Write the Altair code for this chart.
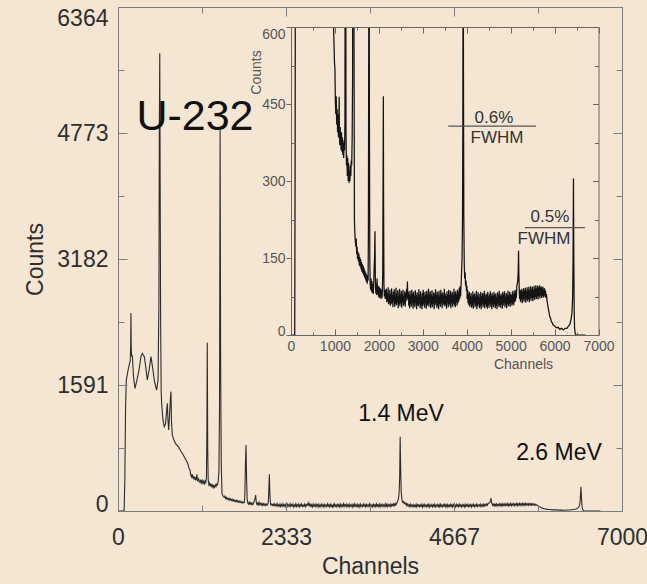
import altair as alt
import pandas as pd

FONT = "Liberation Sans"
BG = "#F5E6D4"

# ---------------- spectrum (channel, counts) ----------------
seg_low = [(0, 0), (85, 0), (95, 400), (105, 1300), (115, 1650), (128, 1720), (145, 1800),
           (160, 1860), (170, 1900), (176, 2100), (180, 2500), (184, 2050), (190, 1950),
           (199, 1970), (215, 1700), (236, 1549), (262, 1650), (292, 1780), (318, 1950),
           (338, 1991), (366, 1949), (388, 1800), (407, 1654), (432, 1780), (458, 1949),
           (482, 1800), (510, 1620), (537, 1528), (556, 1650), (568, 2600), (574, 4800),
           (580, 5780), (586, 4000), (592, 2400), (600, 1500), (608, 1330), (625, 1150),
           (643, 1065), (660, 1100), (674, 1250), (685, 1360), (694, 1150), (704, 1023),
           (718, 1250), (730, 1450), (736, 1507), (742, 1150), (754, 960), (775, 900),
           (800, 850), (838, 812), (870, 760), (907, 707), (940, 650), (968, 602), (990, 530)]

seg_1000 = [(1000, 520), (1010, 455), (1020, 430), (1030, 465), (1040, 410), (1050, 440),
            (1060, 395), (1070, 430), (1080, 385), (1090, 420), (1096, 464), (1102, 400),
            (1110, 370), (1120, 405), (1130, 380), (1140, 360), (1150, 395), (1160, 357),
            (1170, 385), (1180, 350), (1190, 375), (1200, 345), (1210, 380), (1220, 360),
            (1228, 420), (1234, 900), (1240, 2125), (1246, 800), (1252, 400), (1262, 330),
            (1272, 350), (1282, 310), (1292, 345), (1302, 300), (1312, 335), (1322, 296),
            (1332, 320), (1342, 300), (1352, 330), (1362, 310), (1372, 340), (1382, 330),
            (1392, 380), (1402, 500), (1410, 1300), (1418, 4810), (1426, 1800), (1434, 600),
            (1444, 224), (1455, 195)]

seg_1465 = [(1465, 182), (1475, 172), (1485, 188), (1495, 158), (1505, 172), (1515, 148),
            (1525, 162), (1535, 143), (1545, 158), (1555, 136), (1565, 152), (1575, 133),
            (1585, 148), (1595, 128), (1605, 142), (1615, 123), (1625, 138), (1635, 120),
            (1645, 135), (1655, 116), (1665, 130), (1675, 112), (1685, 125), (1695, 108),
            (1705, 121), (1715, 104), (1725, 117), (1735, 100), (1745, 112), (1755, 106),
            (1762, 200), (1770, 600), (1778, 833), (1786, 400), (1794, 150), (1802, 100),
            (1812, 88), (1822, 110), (1832, 85), (1842, 105), (1852, 82), (1862, 100),
            (1872, 80), (1882, 95), (1892, 130), (1902, 150), (1912, 202), (1920, 110),
            (1930, 81), (1940, 100), (1950, 78), (1960, 110), (1970, 80), (1980, 96),
            (1990, 75), (2000, 95), (2010, 72), (2020, 92), (2030, 74), (2040, 90),
            (2050, 70), (2060, 88), (2070, 72), (2080, 86), (2088, 120), (2096, 300),
            (2102, 465), (2108, 250), (2116, 100), (2125, 75), (2135, 88), (2145, 70),
            (2155, 85)]

seg_2160 = [(2160, 72), (2170, 90), (2180, 64), (2190, 82), (2200, 66), (2210, 93), (2220, 60),
            (2230, 79), (2240, 62), (2250, 88), (2260, 57), (2270, 80), (2280, 60), (2290, 91),
            (2300, 63), (2310, 78), (2320, 54), (2330, 84), (2340, 66), (2350, 89), (2360, 55),
            (2370, 77), (2380, 61), (2390, 92), (2400, 58), (2410, 81), (2420, 63), (2430, 87),
            (2440, 52), (2450, 76), (2460, 60), (2470, 90), (2480, 56), (2490, 79), (2500, 62),
            (2510, 86), (2520, 53), (2530, 80), (2540, 64), (2550, 88), (2560, 57), (2570, 75),
            (2580, 61), (2590, 85), (2600, 55), (2610, 82), (2620, 66), (2630, 90), (2640, 72),
            (2650, 104), (2660, 68), (2670, 84), (2680, 57), (2690, 79), (2700, 52), (2710, 86),
            (2720, 60), (2730, 77), (2740, 55), (2750, 88), (2760, 62), (2770, 80), (2780, 51),
            (2790, 84), (2800, 58), (2810, 76), (2820, 54), (2830, 87), (2840, 63), (2850, 78),
            (2860, 50), (2870, 83), (2880, 59), (2890, 75), (2900, 56), (2910, 89), (2920, 61),
            (2930, 79), (2940, 52), (2950, 85), (2960, 58), (2970, 74), (2980, 50), (2990, 82),
            (3000, 57), (3010, 88), (3020, 60), (3030, 76), (3040, 53), (3050, 84), (3060, 62),
            (3070, 79), (3080, 51), (3090, 86), (3100, 57), (3110, 77), (3120, 60), (3130, 90),
            (3140, 55), (3150, 80), (3160, 63), (3170, 85), (3180, 52), (3190, 78), (3200, 59),
            (3210, 87), (3220, 54), (3230, 76), (3240, 61), (3250, 83), (3260, 50), (3270, 80),
            (3280, 58), (3290, 89), (3300, 62), (3310, 77), (3320, 53), (3330, 84), (3340, 57),
            (3350, 79), (3360, 50), (3370, 86), (3380, 60), (3390, 75), (3400, 55), (3410, 88),
            (3420, 63), (3430, 80), (3440, 52), (3450, 83), (3460, 58), (3470, 77), (3480, 61),
            (3490, 90), (3500, 56), (3510, 81), (3520, 59), (3530, 76), (3540, 51), (3550, 85),
            (3560, 62), (3570, 79), (3580, 54), (3590, 88), (3600, 60), (3610, 78), (3620, 57),
            (3630, 86), (3640, 52), (3650, 80), (3660, 63), (3670, 84), (3680, 55), (3690, 77),
            (3700, 61), (3710, 90), (3720, 58), (3730, 82), (3740, 54), (3750, 85), (3760, 64),
            (3770, 79), (3780, 57), (3790, 88), (3800, 62), (3810, 83), (3820, 66), (3830, 92),
            (3840, 70), (3850, 95), (3860, 75)]

seg_14mev = [(3870, 95), (3882, 120), (3894, 150), (3904, 220), (3912, 420), (3919, 938),
             (3926, 520), (3934, 230), (3944, 140), (3954, 110), (3964, 122), (3974, 96),
             (3984, 106), (3994, 86), (4004, 96)]

seg_4020 = [(4010, 70), (4020, 88), (4030, 62), (4040, 80), (4050, 58), (4060, 84), (4070, 55),
            (4080, 76), (4090, 60), (4100, 82), (4110, 53), (4120, 74), (4130, 57), (4140, 85),
            (4150, 51), (4160, 78), (4170, 62), (4180, 81), (4190, 54), (4200, 75), (4210, 59),
            (4220, 86), (4230, 50), (4240, 77), (4250, 56), (4260, 83), (4270, 60), (4280, 73),
            (4290, 52), (4300, 80), (4310, 57), (4320, 84), (4330, 50), (4340, 76), (4350, 61),
            (4360, 82), (4370, 54), (4380, 78), (4390, 58), (4400, 86), (4410, 52), (4420, 74),
            (4430, 60), (4440, 81), (4450, 55), (4460, 79), (4470, 51), (4480, 84), (4490, 58),
            (4500, 75), (4510, 53), (4520, 80), (4530, 61), (4540, 85), (4550, 55), (4560, 77),
            (4570, 50), (4580, 82), (4590, 59), (4600, 76), (4610, 54), (4620, 84), (4630, 60),
            (4640, 79), (4650, 52), (4660, 81), (4670, 57), (4680, 74), (4690, 50), (4700, 83),
            (4710, 61), (4720, 78), (4730, 55), (4740, 86), (4750, 58), (4760, 76), (4770, 53),
            (4780, 81), (4790, 60), (4800, 77), (4810, 51), (4820, 84), (4830, 57), (4840, 79),
            (4850, 62), (4860, 85), (4870, 54), (4880, 75), (4890, 59), (4900, 82), (4910, 52),
            (4920, 78), (4930, 61), (4940, 86), (4950, 56), (4960, 77), (4970, 60), (4980, 84),
            (4990, 55), (5000, 80), (5010, 63), (5020, 78), (5030, 57), (5040, 85), (5050, 61),
            (5060, 79), (5070, 58), (5080, 87), (5090, 64), (5100, 82), (5110, 66), (5120, 88),
            (5130, 72), (5140, 95), (5150, 100)]

seg_5180 = [(5162, 105), (5172, 125), (5180, 164), (5188, 115), (5198, 82)]

seg_5210 = [(5205, 70), (5215, 88), (5225, 64), (5235, 86), (5245, 68), (5255, 90), (5265, 62),
            (5275, 84), (5285, 70), (5295, 91), (5305, 65), (5315, 87), (5325, 69), (5335, 92),
            (5345, 63), (5355, 85), (5365, 71), (5375, 93), (5385, 66), (5395, 88), (5405, 70),
            (5415, 94), (5425, 64), (5435, 86), (5445, 72), (5455, 95), (5465, 67), (5475, 89),
            (5485, 73), (5495, 94), (5505, 66), (5515, 88), (5525, 72), (5535, 96), (5545, 68),
            (5555, 90), (5565, 74), (5575, 97), (5585, 70), (5595, 91), (5605, 75), (5615, 96),
            (5625, 69), (5635, 92), (5645, 76), (5655, 97), (5665, 71), (5675, 93), (5685, 77),
            (5695, 95), (5705, 72), (5715, 92), (5725, 76), (5735, 94), (5745, 73), (5755, 90),
            (5765, 77), (5775, 91), (5785, 74), (5795, 86), (5805, 72), (5815, 80)]

seg_26mev = [(5830, 66), (5850, 55), (5870, 46), (5890, 36), (5910, 32), (5930, 25), (5950, 24),
             (5970, 19), (6000, 18), (6040, 14), (6080, 15), (6120, 11), (6160, 13), (6200, 10),
             (6240, 13), (6280, 13), (6320, 18), (6350, 21), (6375, 31), (6395, 42), (6410, 70),
             (6420, 140), (6430, 305), (6438, 150), (6446, 50), (6455, 15), (6470, 3),
             (6490, 0), (6700, 0)]

points = (seg_low + seg_1000 + seg_1465 + seg_2160 + seg_14mev + seg_4020 + seg_5180
          + seg_5210 + seg_26mev)
spec = pd.DataFrame(points, columns=["channel", "counts"])

# ---------------- tick values ----------------
main_x_ticks = [0, 1166.667, 2333.333, 3500, 4666.667, 5833.333, 7000]
main_y_ticks = [0, 795.5, 1591, 2386.5, 3182, 3977.5, 4773, 5568.5, 6364]
inset_x_ticks = [0, 500, 1000, 1500, 2000, 2500, 3000, 3500, 4000, 4500, 5000, 5500,
                 6000, 6500, 7000]
inset_y_ticks = [0, 75, 150, 225, 300, 375, 450, 525, 600]

# ---------------- annotations ----------------
main_labels = ["U-232", "1.4 MeV", "2.6 MeV"]
main_label_ch = [1069, 3931, 6125]
main_label_ct = [4811, 1136, 644]
main_label_fs = [43, 23, 23]
main_lbl = pd.DataFrame({"label": main_labels, "ch": main_label_ch,
                         "ct": main_label_ct, "fs": main_label_fs})

inset_labels = ["0.6%", "FWHM", "0.5%", "FWHM"]
inset_label_ch = [4620, 4689, 5895, 5758]
inset_label_ct = [413, 375, 220, 177]
inset_lbl = pd.DataFrame({"label": inset_labels, "ch": inset_label_ch, "ct": inset_label_ct})

fwhm_x0 = [3580, 5326]
fwhm_x1 = [5577, 6692]
fwhm_y = [407, 209]
fwhm = pd.DataFrame({"x0": fwhm_x0, "x1": fwhm_x1, "y": fwhm_y})

# inset panel extent (used to hide the spikes that leave the inset at its top)
inset_box = pd.DataFrame({"x0": [0], "x1": [7000], "top": [600]})

# ---------------- axes ----------------
MAJX = "abs(datum.value/2333.3333 - round(datum.value/2333.3333)) < 0.01"
MAJY = "abs(datum.value/1591 - round(datum.value/1591)) < 0.01"
MAJIX = "datum.value % 1000 == 0"
MAJIY = "datum.value % 150 == 0"

FRAME = "#7d7d7d"
IFRAME = "#666666"
TXT = "#2e2e2e"
ITXT = "#555555"


def tsize(test, major, minor):
    # negative sizes point the ticks into the plot
    return {"expr": f"({test}) ? ({major}) : ({minor})"}


ax_main_x = alt.Axis(orient="bottom", values=main_x_ticks, format="d", zindex=1,
                     labelExpr=f"({MAJX}) ? datum.label : ''",
                     tickSize=tsize(MAJX, -9, -6), labelPadding=24.5,
                     labelFont=FONT, labelFontSize=23,
                     labelColor=TXT, labelFlush=False, labelOverlap=False, grid=False,
                     domainColor=FRAME, tickColor=FRAME,
                     title="Channels", titleFont=FONT, titleFontSize=23,
                     titleFontWeight="normal", titleColor=TXT, titleY=44)
ax_main_y = alt.Axis(orient="left", values=main_y_ticks, format="d", zindex=1,
                     labelExpr=f"({MAJY}) ? datum.label : ''",
                     tickSize=tsize(MAJY, -9, -6), labelPadding=19,
                     labelFont=FONT, labelFontSize=23,
                     labelColor=TXT, labelFlush=False, labelOverlap=False, grid=False,
                     labelBaseline={"condition": [{"test": "datum.value < 1", "value": "alphabetic"},
                                                  {"test": "datum.value > 6000", "value": "top"}],
                                    "value": "middle"},
                     domainColor=FRAME, tickColor=FRAME,
                     title="Counts", titleFont=FONT, titleFontSize=23,
                     titleFontWeight="normal", titleColor=TXT, titleX=-71)
ax_main_top = alt.Axis(orient="top", values=main_x_ticks, labels=False, title=None, zindex=1,
                       tickSize=tsize(MAJX, -9, -6), grid=False,
                       domainColor=FRAME, tickColor=FRAME)
ax_main_right = alt.Axis(orient="right", values=main_y_ticks, labels=False, title=None,
                         zindex=1, tickSize=tsize(MAJY, -9, -6), grid=False,
                         domainColor=FRAME, tickColor=FRAME)

ax_in_x = alt.Axis(orient="bottom", offset=-176, values=inset_x_ticks, format="d", zindex=1,
                   labelExpr=f"({MAJIX}) ? datum.label : ''",
                   tickSize=tsize(MAJIX, -6, -3), labelPadding=10,
                   labelFont=FONT, labelFontSize=14,
                   labelColor=ITXT, labelFlush=False, labelOverlap=False, grid=False,
                   domainColor=IFRAME, tickColor=IFRAME,
                   title="Channels", titleFont=FONT, titleFontSize=14,
                   titleFontWeight="normal", titleColor=ITXT, titleX=405, titleY=22)
ax_in_y = alt.Axis(orient="left", offset=-173, values=inset_y_ticks, format="d", zindex=1,
                   labelExpr=f"({MAJIY}) ? datum.label : ''",
                   tickSize=tsize(MAJIY, 5, -4), labelPadding=1,
                   labelFont=FONT, labelFontSize=14,
                   labelColor=ITXT, labelFlush=False, labelOverlap=False, grid=False,
                   labelBaseline={"condition": [{"test": "datum.value < 1", "value": "alphabetic"},
                                                {"test": "datum.value > 590", "value": "top"}],
                                  "value": "middle"},
                   domainColor=IFRAME, tickColor=IFRAME,
                   title="Counts", titleFont=FONT, titleFontSize=14,
                   titleFontWeight="normal", titleColor=ITXT, titleX=-28, titleY=65)
ax_in_top = alt.Axis(orient="top", offset=-20, values=inset_x_ticks, labels=False, title=None,
                     zindex=1, tickSize=tsize(MAJIX, -6, -3), grid=False,
                     domainColor=IFRAME, tickColor=IFRAME)
ax_in_right = alt.Axis(orient="right", offset=-23.5, values=inset_y_ticks, labels=False,
                       title=None, zindex=1, tickSize=tsize(MAJIY, -6, -4), grid=False,
                       domainColor=IFRAME, tickColor=IFRAME)

# ---------------- scales ----------------
sx_main = alt.Scale(domain=[0, 7000], nice=False, zero=False)
sy_main = alt.Scale(domain=[0, 6364], nice=False, zero=False)
sx_in = alt.Scale(domain=[0, 7000], range=[173, 480.5], nice=False, zero=False)
sy_in = alt.Scale(domain=[0, 600], range=[328, 20], nice=False, zero=False)

main_line = alt.Chart(spec).mark_line(color="#2c2c2c", strokeWidth=1.1).encode(
    x=alt.X("channel:Q", scale=sx_main, axis=ax_main_x),
    y=alt.Y("counts:Q", scale=sy_main, axis=ax_main_y))
main_mirror = alt.Chart(spec).mark_line(strokeOpacity=0).encode(
    x=alt.X("channel:Q", scale=sx_main, axis=ax_main_top),
    y=alt.Y("counts:Q", scale=sy_main, axis=ax_main_right))

inset_line = alt.Chart(spec).mark_line(color="#141414", strokeWidth=1.25, clip=True).encode(
    x=alt.X("channel:Q", scale=sx_in, axis=ax_in_x),
    y=alt.Y("counts:Q", scale=sy_in, axis=ax_in_y))
inset_mirror = alt.Chart(spec).mark_line(strokeOpacity=0).encode(
    x=alt.X("channel:Q", scale=sx_in, axis=ax_in_top),
    y=alt.Y("counts:Q", scale=sy_in, axis=ax_in_right))

inset_cover = alt.Chart(inset_box).mark_rect(fill=BG, stroke=None).encode(
    x=alt.X("x0:Q", scale=sx_in, axis=None), x2="x1:Q",
    y=alt.Y("top:Q", scale=sy_in, axis=None), y2=alt.value(0))

inset_rules = alt.Chart(fwhm).mark_rule(color="#555555", strokeWidth=1.2).encode(
    x=alt.X("x0:Q", scale=sx_in, axis=None), x2="x1:Q",
    y=alt.Y("y:Q", scale=sy_in, axis=None))
inset_text = alt.Chart(inset_lbl).mark_text(font=FONT, fontSize=17, color="#333333",
                                            align="center", baseline="alphabetic").encode(
    x=alt.X("ch:Q", scale=sx_in, axis=None),
    y=alt.Y("ct:Q", scale=sy_in, axis=None),
    text="label:N")
main_text = alt.Chart(main_lbl).mark_text(font=FONT, color="#111111", align="center",
                                          baseline="alphabetic").encode(
    x=alt.X("ch:Q", scale=sx_main, axis=None),
    y=alt.Y("ct:Q", scale=sy_main, axis=None),
    text="label:N",
    size=alt.Size("fs:Q", scale=None, legend=None))

chart = alt.layer(main_line, main_mirror, inset_line, inset_mirror, inset_cover, inset_rules,
                  inset_text, main_text).resolve_scale(
    x="independent", y="independent").resolve_axis(
    x="independent", y="independent").properties(
    width=504, height=504,
    autosize=alt.AutoSizeParams(type="none"),
    padding={"left": 118, "top": 7, "right": 25, "bottom": 73},
    background=BG).configure_view(stroke=None)

chart.save("out.html", embed_options={"renderer": "svg", "actions": False})
